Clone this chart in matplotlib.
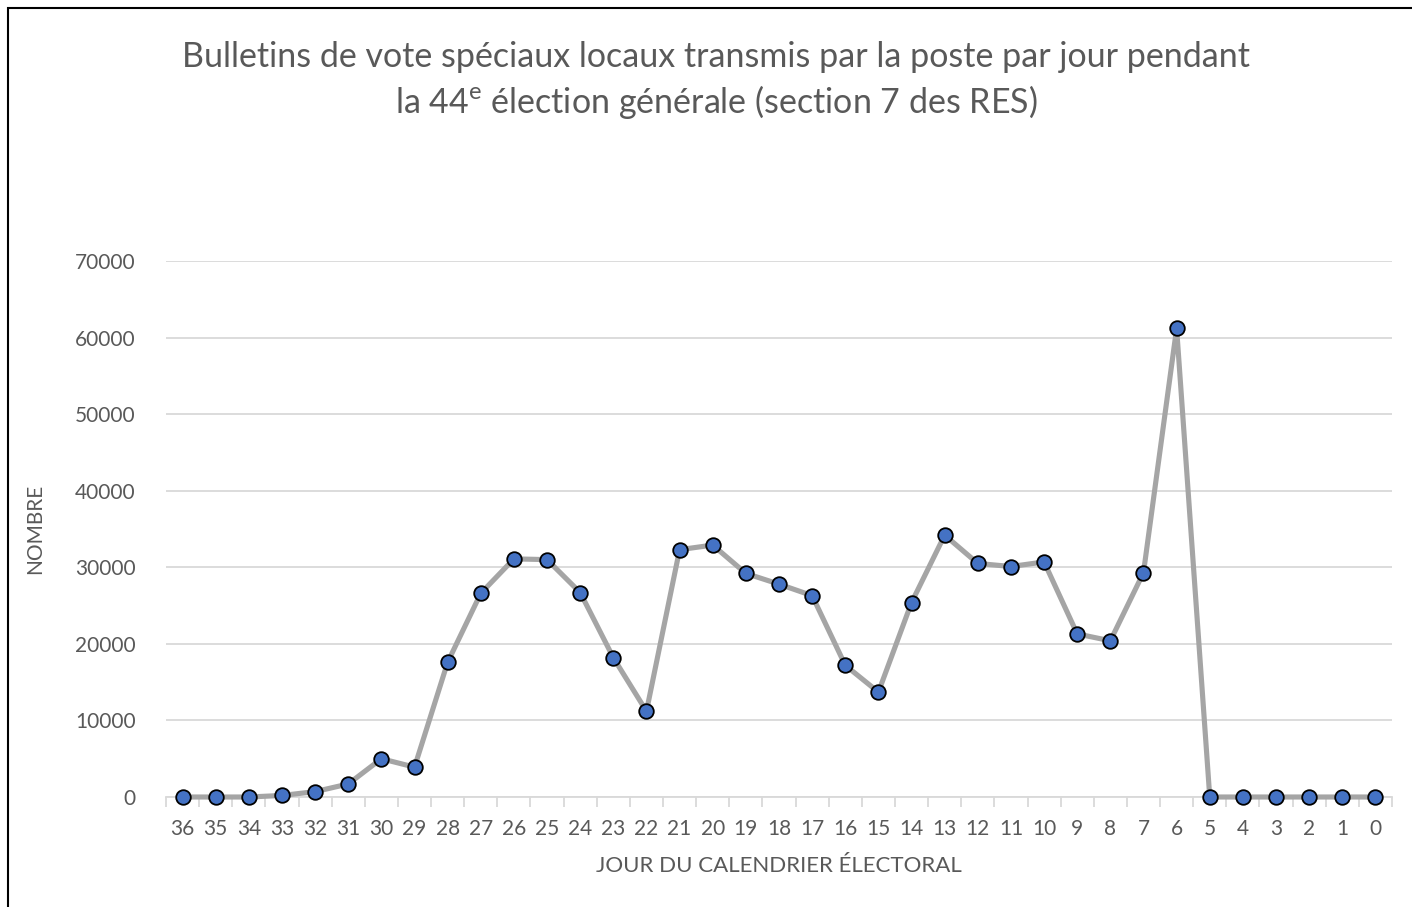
import matplotlib
matplotlib.use("Agg")
import matplotlib.pyplot as plt
from matplotlib.patches import Rectangle
from matplotlib.ticker import FixedLocator, NullFormatter

plt.rcParams['font.family'] = ['Lato', 'DejaVu Sans']
plt.rcParams['mathtext.fontset'] = 'custom'
plt.rcParams['mathtext.rm'] = 'Lato'

days = [str(d) for d in range(36, -1, -1)]
values = [0, 0, 0, 200, 700, 1700, 5000, 3900, 17600, 26600, 31100, 31000,
          26700, 18200, 11200, 32300, 32900, 29200, 27800, 26300, 17200, 13700,
          25400, 34200, 30500, 30100, 30700, 21300, 20400, 29300, 61200,
          0, 0, 0, 0, 0, 0]
yticks = [0, 10000, 20000, 30000, 40000, 50000, 60000, 70000]

W, H = 1412, 907
fig = plt.figure(figsize=(W / 100, H / 100), dpi=100)
fig.patches.append(Rectangle((8 / W, -0.01), 1.1, 1 - 8 / H + 0.01, transform=fig.transFigure,
                             fill=False, edgecolor='black', linewidth=1.5))

ax = fig.add_axes([166 / W, (H - 797) / H, (1392 - 166) / W, (797 - 261) / H])
x = list(range(len(days)))
ax.plot(x, values, color='#A5A5A5', linewidth=3.7, marker='o', markersize=10.5,
        markerfacecolor='#4472C4', markeredgecolor='black', markeredgewidth=1.3,
        solid_capstyle='round', zorder=3, clip_on=False)

ax.set_xlim(-0.5, len(days) - 0.5)
ax.set_ylim(0, 70000)
ax.set_yticks(yticks)
ax.set_yticklabels([str(v) for v in yticks])
ax.grid(axis='y', color='#D9D9D9', linewidth=1.3)
ax.set_axisbelow(True)

ax.set_xticks(x)
ax.set_xticklabels(days)
ax.xaxis.set_minor_locator(FixedLocator([i - 0.5 for i in range(len(days) + 1)]))
ax.xaxis.set_minor_formatter(NullFormatter())
ax.tick_params(axis='x', which='major', length=0, pad=16, labelsize=15, labelcolor='#595959')
ax.tick_params(axis='x', which='minor', length=7, width=1.3, color='#D9D9D9')
ax.tick_params(axis='y', length=0, pad=22, labelsize=15, labelcolor='#595959')

for s in ['top', 'right', 'left']:
    ax.spines[s].set_visible(False)
ax.spines['bottom'].set_color('#D9D9D9')
ax.spines['bottom'].set_linewidth(1.3)

fig.text(35 / W, 1 - 529 / H, 'NOMBRE', rotation=90, ha='center', va='center',
         fontsize=15, color='#595959')
fig.text(779 / W, 1 - 866 / H, 'JOUR DU CALENDRIER ÉLECTORAL', ha='center', va='center',
         fontsize=16, color='#595959')

fig.text(716 / W, 1 - 57 / H,
         'Bulletins de vote spéciaux locaux transmis par la poste par jour pendant',
         ha='center', va='center', fontsize=24.5, color='#595959')
fig.text(716 / W, 1 - 102 / H,
         r'la 44$^{\mathrm{e}}$ élection générale (section 7 des RES)',
         ha='center', va='center', fontsize=24.5, color='#595959')

fig.savefig('out.png', dpi=100)
